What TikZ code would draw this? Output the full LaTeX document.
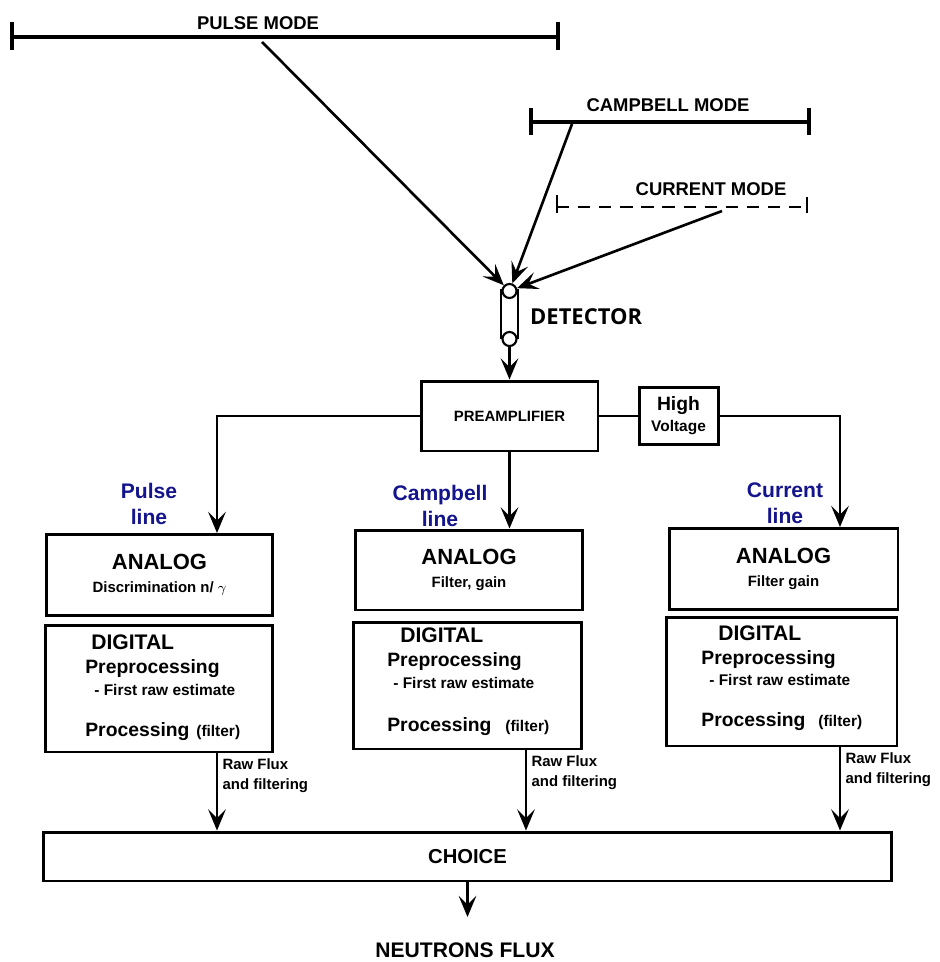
\documentclass[tikz,border=0pt]{standalone}
\usepackage{fontspec}
\setmainfont{Liberation Sans}
\newfontfamily\detfont{Open Sans}
\usetikzlibrary{arrows.meta, calc}
\definecolor{linecolor}{RGB}{20,20,140}

\begin{document}
\begin{tikzpicture}[x=0.02cm, y=-0.02cm,
    box/.style={draw, line width=1.7pt, inner sep=0pt, align=center},
    link/.style={line width=1.5pt},
    conn/.style={line width=1.5pt, -{Stealth[length=12pt, width=10pt, inset=5pt]}},
    modebar/.style={line width=2.3pt},
    modelabel/.style={font=\fontsize{10.5}{12}\selectfont\bfseries},
    linelabel/.style={align=center, text=linecolor, font=\fontsize{12}{14.8}\selectfont\bfseries},
    analogbox/.style={box, minimum height=1.62cm, font=\fontsize{12.5}{13}\selectfont\bfseries},
    digitalbox/.style={box, minimum height=2.54cm},
    digtitle/.style={anchor=west, inner sep=0pt, font=\fontsize{12}{14}\selectfont\bfseries},
    digitem/.style={anchor=west, inner sep=0pt, font=\fontsize{11}{13}\selectfont\bfseries},
    digsub/.style={anchor=west, inner sep=0pt, font=\fontsize{8.8}{10}\selectfont\bfseries},
    rawlabel/.style={anchor=north west, inner sep=0pt, align=left, font=\fontsize{8.5}{11.4}\selectfont\bfseries}]
    \useasboundingbox (0,0) rectangle (939,962);

    % modes
    \draw[modebar] (12,37) -- (558,37);
    \draw[modebar] (12,22) -- (12,50);
    \draw[modebar] (558,22) -- (558,50);
    \node[modelabel] (pulsemode) at (258,23) {PULSE MODE};
    \coordinate (pulsetap) at (262,42);

    \draw[modebar] (531,122) -- (809,122);
    \draw[modebar] (531,108) -- (531,135);
    \draw[modebar] (809,108) -- (809,135);
    \node[modelabel] (campmode) at (668,105) {CAMPBELL MODE};
    \coordinate (camptap) at (572,124);

    \draw[line width=0.9pt, dash pattern=on 7pt off 5pt] (557,207) -- (807,207);
    \draw[line width=0.9pt] (557,195) -- (557,213);
    \draw[line width=0.9pt] (807,197) -- (807,213);
    \node[modelabel] (currmode) at (711,189) {CURRENT MODE};
    \coordinate (currtap) at (722,211);

    % detector
    \node[draw, line width=1.2pt, minimum width=0.34cm, minimum height=0.94cm, inner sep=0pt] (det) at (509.5,314) {};
    \node[circle, draw, fill=white, line width=1.2pt, minimum size=0.28cm, inner sep=0pt] (dettop) at (509.5,291) {};
    \node[circle, draw, fill=white, line width=1.2pt, minimum size=0.28cm, inner sep=0pt] (detbot) at (509.5,339) {};
    \node[anchor=west, font=\detfont\fontsize{12.5}{14}\selectfont\bfseries] (detlabel) at (524,317) {DETECTOR};

    \draw[conn] (pulsetap) -- (dettop);
    \draw[conn] (camptap) -- (dettop);
    \draw[conn] (currtap) -- (dettop);

    % preamplifier and high voltage
    \node[box, minimum width=3.54cm, minimum height=1.40cm, font=\fontsize{8.5}{10}\selectfont\bfseries] (pre) at (509.5,416) {PREAMPLIFIER};
    \node[box, minimum width=1.58cm, minimum height=1.15cm, font=\bfseries] (hv) at (678.5,416) {{\fontsize{11}{12.7}\selectfont High}\\{\fontsize{8.8}{10}\selectfont Voltage}};
    \draw[conn] (detbot.south) -- (pre.north);

    % three lines
    \node[linelabel] (pulselbl) at (149,504) {Pulse\\line};
    \node[linelabel] (camplbl) at (440,506) {Campbell\\line};
    \node[linelabel] (currlbl) at (785,503) {Current\\line};

    \node[analogbox, minimum width=4.54cm] (pan) at (159.5,575) {ANALOG\\{\fontsize{8.5}{10}\selectfont Discrimination n/ $\gamma$}};
    \node[analogbox, minimum width=4.56cm, minimum height=1.60cm] (can) at (469,570) {ANALOG\\{\fontsize{8.5}{10}\selectfont Filter, gain}};
    \node[analogbox, minimum width=4.58cm] (uan) at (783.5,569) {ANALOG\\{\fontsize{8.5}{10}\selectfont Filter gain}};

    \draw[link] (pre.east) -- (hv.west);
    \draw[conn] (pre.west) -| ([xshift=1.15cm]pan.north);
    \draw[conn] (pre.south) -- (pre.south |- can.north);
    \draw[conn] (hv.east) -| ([xshift=1.13cm]uan.north);

    \node[digitalbox, minimum width=4.56cm] (pdig) at (159,688.5) {};
    \node[digitalbox, minimum width=4.58cm] (cdig) at (467.5,685.5) {};
    \node[digitalbox, minimum width=4.62cm, minimum height=2.58cm] (udig) at (781.5,681.5) {};

    \node[digtitle] (pdigA) at (91,642) {DIGITAL};
    \node[digitem] (pdigB) at (85,669) {Preprocessing};
    \node[digsub] (pdigC) at (94,690) {- First raw estimate};
    \node[digitem] (pdigD) at (85,732) {Processing};
    \node[digsub] (pdigE) at (196,732) {(filter)};

    \node[digtitle] (cdigA) at (400,635) {DIGITAL};
    \node[digitem] (cdigB) at (387,662) {Preprocessing};
    \node[digsub] (cdigC) at (393,683) {- First raw estimate};
    \node[digitem] (cdigD) at (387,727) {Processing};
    \node[digsub] (cdigE) at (505,727) {(filter)};

    \node[digtitle] (udigA) at (718,633) {DIGITAL};
    \node[digitem] (udigB) at (701,660) {Preprocessing};
    \node[digsub] (udigC) at (709,680) {- First raw estimate};
    \node[digitem] (udigD) at (701,722) {Processing};
    \node[digsub] (udigE) at (818,722) {(filter)};

    % choice
    \node[box, minimum width=16.98cm, minimum height=0.98cm, font=\fontsize{11.5}{13}\selectfont\bfseries] (choice) at (467.5,856.5) {CHOICE};

    \coordinate (pout) at ([xshift=1.16cm]pdig.south);
    \coordinate (cout) at ([xshift=1.17cm]cdig.south);
    \coordinate (uout) at ([xshift=1.17cm]udig.south);
    \draw[conn] (pout) -- (pout |- choice.north);
    \draw[conn] (cout) -- (cout |- choice.north);
    \draw[conn] (uout) -- (uout |- choice.north);
    \node[rawlabel] (praw) at ([xshift=3pt, yshift=-3pt]pout) {Raw Flux\\and filtering};
    \node[rawlabel] (craw) at ([xshift=3pt, yshift=-3pt]cout) {Raw Flux\\and filtering};
    \node[rawlabel] (uraw) at ([xshift=3pt, yshift=-3pt]uout) {Raw Flux\\and filtering};

    \node[font=\fontsize{12}{14}\selectfont\bfseries, inner sep=1pt] (flux) at (465,950) {NEUTRONS FLUX};
    \coordinate (fluxin) at (465,917);
    \draw[conn] (choice.south) -- (choice.south |- fluxin);
\end{tikzpicture}
\end{document}
